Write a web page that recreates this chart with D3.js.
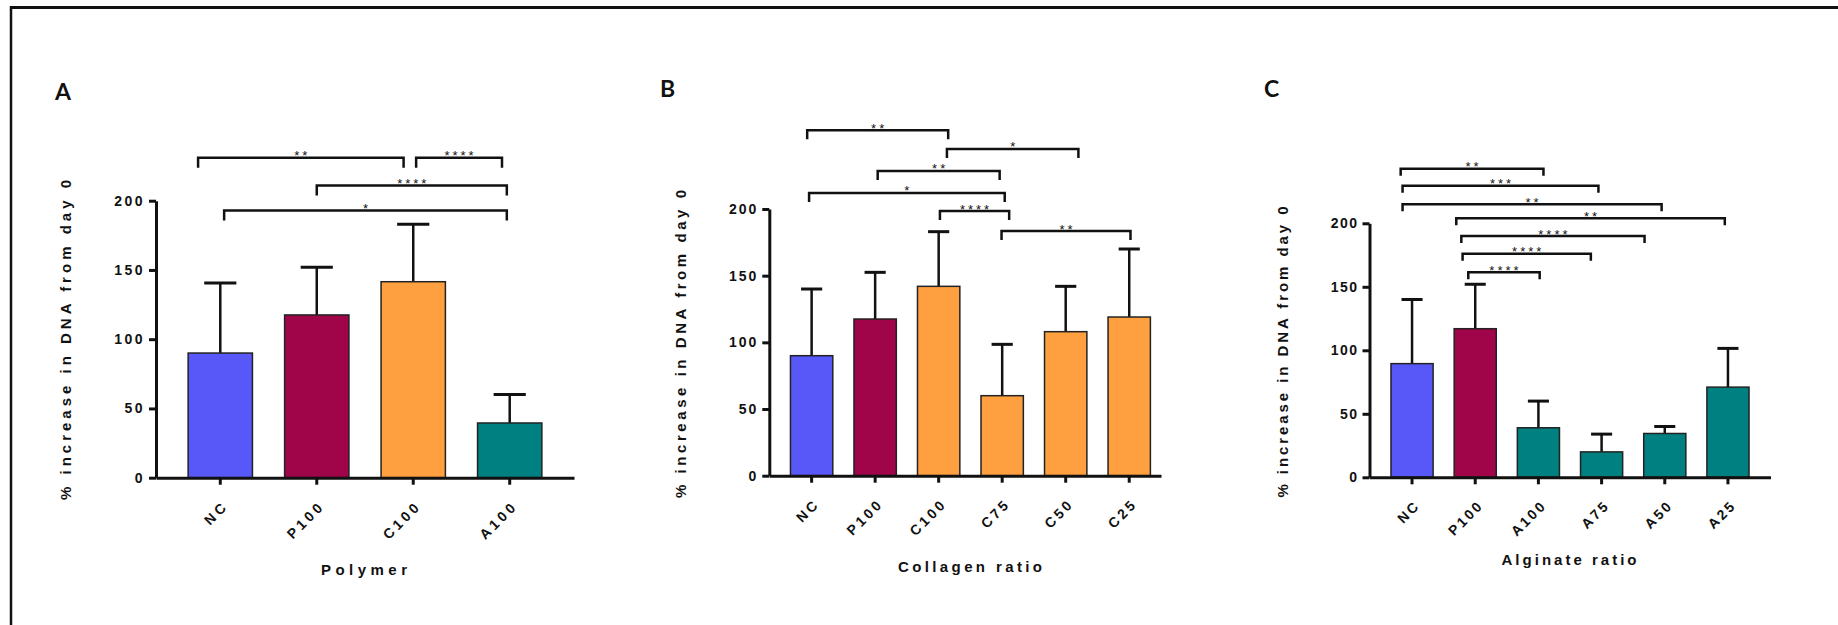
<!DOCTYPE html>
<html>
<head>
<meta charset="utf-8">
<script src="https://cdn.jsdelivr.net/npm/d3@7"></script>
<style>
  body { margin: 0; background: #fff; }
  svg { display: block; }
  text { font-family: "Liberation Sans", Arial, sans-serif; font-weight: bold; fill: #111; }
</style>
</head>
<body>
<svg id="chart" width="1838" height="625"></svg>
<script>
// Panel A - polymer
var catsA = ["NC", "P100", "C100", "A100"];
var meanA = [90, 117.5, 141.5, 39.5];
var errA = [140.5, 152, 183, 60];
// [from index, to index, bracket level (% units), label]
var sigA = [
  [-0.23, 1.9, 231, "**"],
  [2.03, 2.92, 231, "****"],
  [1.0, 2.97, 211, "****"],
  [0.04, 2.97, 193, "*"]
];

// Panel B - collagen ratio
var catsB = ["NC", "P100", "C100", "C75", "C50", "C25"];
var meanB = [90, 117.5, 142, 60, 108, 119];
var errB = [140, 152.5, 183, 98.5, 142, 170];
var sigB = [
  [-0.07, 2.15, 259, "**"],
  [2.13, 4.2, 245, "*"],
  [1.04, 2.96, 228.5, "**"],
  [-0.04, 3.04, 212, "*"],
  [2.02, 3.11, 198.5, "****"],
  [2.99, 5.02, 183.5, "**"]
];

// Panel C - alginate ratio
var catsC = ["NC", "P100", "A100", "A75", "A50", "A25"];
var meanC = [89.5, 117, 39, 20, 34.5, 71];
var errC = [140, 152, 60, 34, 40, 101.5];
var sigC = [
  [-0.18, 2.08, 243, "**"],
  [-0.15, 2.95, 229.5, "***"],
  [-0.15, 3.95, 215, "**"],
  [0.7, 4.95, 204, "**"],
  [0.78, 3.68, 190, "****"],
  [0.8, 2.83, 176, "****"],
  [0.89, 2.02, 161.5, "****"]
];

var yTicks = [0, 50, 100, 150, 200];
var yTitle = "% increase in DNA from day 0";

// bar colour by group prefix
function barColor(c) {
  if (c === "NC") return "#5858f8";
  if (c[0] === "P") return "#a0054a";
  if (c[0] === "C") return "#ffa040";
  return "#008080";
}

var svg = d3.select("#chart");

// outer frame (top and left edges only visible)
svg.append("line").attr("x1", 10).attr("x2", 1838).attr("y1", 7.5).attr("y2", 7.5)
  .attr("stroke", "#111").attr("stroke-width", 3);
svg.append("line").attr("x1", 11).attr("x2", 11).attr("y1", 6).attr("y2", 625)
  .attr("stroke", "#111").attr("stroke-width", 2.5);

var panels = [
  { cats: catsA, mean: meanA, err: errA, sig: sigA, letter: "A", xTitle: "Polymer",
    x0: 156, x1: 574, y0: 477.7, yTop: 200.7, padL: 0.333, padR: 0.333, leg: 10,
    lx: 55, ly: 100, tx: 71, tcy: 340, tlen: 320, tsize: 15,
    xcx: 364, xty: 575, xlen: 86, tick: 14, tickLs: 2.5 },
  { cats: catsB, mean: meanB, err: errB, sig: sigB, letter: "B", xTitle: "Collagen ratio",
    x0: 769.3, x1: 1161, y0: 475.7, yTop: 209, padL: 0.333, padR: 0.167, leg: 9,
    lx: 660, ly: 97, tx: 686, tcy: 344, tlen: 308, tsize: 15,
    xcx: 970, xty: 572, xlen: 144, tick: 14, tickLs: 2 },
  { cats: catsC, mean: meanC, err: errC, sig: sigC, letter: "C", xTitle: "Alginate ratio",
    x0: 1369.5, x1: 1770.5, y0: 477.3, yTop: 223.3, padL: 0.34, padR: 0.34, leg: 7,
    lx: 1264, ly: 97, tx: 1287.5, tcy: 352, tlen: 291, tsize: 15,
    xcx: 1569, xty: 565, xlen: 135, tick: 14, tickLs: 1.5 }
];

panels.forEach(function(p) {
  var g = svg.append("g");

  var x = d3.scaleBand()
    .domain(p.cats)
    .range([p.x0, p.x1])
    .paddingInner(1 / 3)
    .paddingOuter((p.padL + p.padR) / 2)
    .align(p.padL / (p.padL + p.padR));
  var y = d3.scaleLinear().domain([0, 200]).range([p.y0, p.yTop]);
  var bw = x.bandwidth();
  var c0 = x(p.cats[0]) + bw / 2;
  var xi = function(i) { return c0 + i * x.step(); };

  var data = p.cats.map(function(c, i) { return { c: c, m: p.mean[i], e: p.err[i] }; });

  // error bars (upper only) drawn first so the bar covers the stem
  g.selectAll(".stem").data(data).enter().append("line")
    .attr("x1", function(d) { return x(d.c) + bw / 2; })
    .attr("x2", function(d) { return x(d.c) + bw / 2; })
    .attr("y1", function(d) { return y(d.m); })
    .attr("y2", function(d) { return y(d.e); })
    .attr("stroke", "#111").attr("stroke-width", 2.5);
  g.selectAll(".cap").data(data).enter().append("line")
    .attr("x1", function(d) { return x(d.c) + bw / 4; })
    .attr("x2", function(d) { return x(d.c) + bw * 3 / 4; })
    .attr("y1", function(d) { return y(d.e); })
    .attr("y2", function(d) { return y(d.e); })
    .attr("stroke", "#111").attr("stroke-width", 3);

  // bars
  g.selectAll(".bar").data(data).enter().append("rect")
    .attr("x", function(d) { return x(d.c); })
    .attr("y", function(d) { return y(d.m); })
    .attr("width", bw)
    .attr("height", function(d) { return y(0) - y(d.m); })
    .attr("fill", function(d) { return barColor(d.c); })
    .attr("stroke", "#222").attr("stroke-width", 1.5);

  // axes
  var ya = g.append("g")
    .attr("transform", "translate(" + p.x0 + ",0)")
    .call(d3.axisLeft(y).tickValues(yTicks).tickSize(7).tickSizeOuter(0).tickPadding(4));
  var xa = g.append("g")
    .attr("transform", "translate(0," + p.y0 + ")")
    .call(d3.axisBottom(x).tickSize(7).tickSizeOuter(0));
  [ya, xa].forEach(function(a) {
    a.select(".domain").attr("stroke", "#111").attr("stroke-width", 3);
    a.selectAll(".tick line").attr("stroke", "#111").attr("stroke-width", 3);
    a.selectAll("text").attr("fill", "#111")
      .style("font-family", "'Liberation Sans', Arial, sans-serif")
      .style("font-weight", "bold")
      .style("font-size", p.tick + "px")
      .style("letter-spacing", p.tickLs + 1 + "px");
  });
  ya.selectAll("text").style("letter-spacing", p.tickLs + "px");
  xa.selectAll("text")
    .attr("x", 0).attr("y", 0).attr("dy", null)
    .attr("text-anchor", "end")
    .attr("transform", "translate(9,29) rotate(-45)");

  // significance brackets
  p.sig.forEach(function(s) {
    var xa1 = xi(s[0]), xb = xi(s[1]), yy = y(s[2]);
    g.append("path")
      .attr("d", "M" + xa1 + "," + (yy + p.leg) + "V" + yy + "H" + xb + "V" + (yy + p.leg))
      .attr("fill", "none").attr("stroke", "#111").attr("stroke-width", 2.5);
    g.append("text")
      .attr("x", (xa1 + xb) / 2 + 1.5)
      .attr("y", yy + 2.5)
      .attr("text-anchor", "middle")
      .style("font-size", "13px")
      .style("font-weight", "normal")
      .style("letter-spacing", "3px")
      .attr("fill", "#222")
      .text(s[3]);
  });

  // titles
  g.append("text")
    .attr("transform", "translate(" + p.tx + "," + p.tcy + ") rotate(-90)")
    .attr("text-anchor", "middle")
    .attr("textLength", p.tlen)
    .attr("lengthAdjust", "spacing")
    .style("font-size", p.tsize + "px")
    .text(yTitle);
  g.append("text")
    .attr("x", p.xcx).attr("y", p.xty)
    .attr("text-anchor", "middle")
    .attr("textLength", p.xlen)
    .attr("lengthAdjust", "spacing")
    .style("font-size", "15px")
    .text(p.xTitle);
  g.append("text")
    .attr("x", p.lx).attr("y", p.ly)
    .style("font-family", "Lato, 'Open Sans', sans-serif")
    .style("font-size", "23px")
    .text(p.letter);
});
</script>
</body>
</html>
